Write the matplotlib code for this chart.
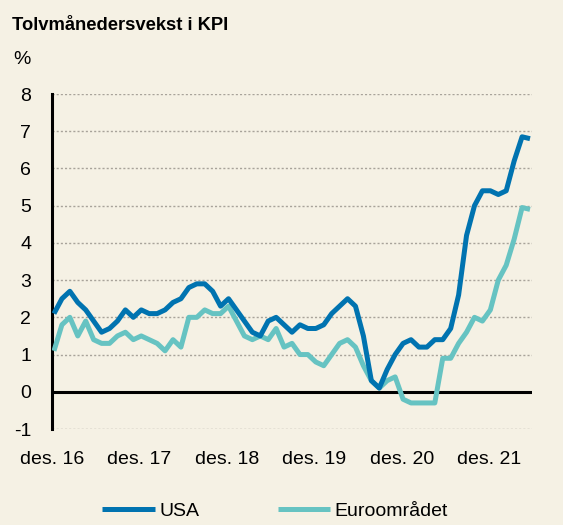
import numpy as np
import matplotlib.pyplot as plt

# Tolvmånedersvekst i KPI, des. 2016 - des. 2021 (månedlig)
usa = [2.1,
       2.5, 2.7, 2.4, 2.2, 1.9, 1.6, 1.7, 1.9, 2.2, 2.0, 2.2, 2.1,
       2.1, 2.2, 2.4, 2.5, 2.8, 2.9, 2.9, 2.7, 2.3, 2.5, 2.2, 1.9,
       1.6, 1.5, 1.9, 2.0, 1.8, 1.6, 1.8, 1.7, 1.7, 1.8, 2.1, 2.3,
       2.5, 2.3, 1.5, 0.3, 0.1, 0.6, 1.0, 1.3, 1.4, 1.2, 1.2, 1.4,
       1.4, 1.7, 2.6, 4.2, 5.0, 5.4, 5.4, 5.3, 5.4, 6.2, 6.85, 6.8]
euro = [1.1,
        1.8, 2.0, 1.5, 1.9, 1.4, 1.3, 1.3, 1.5, 1.6, 1.4, 1.5, 1.4,
        1.3, 1.1, 1.4, 1.2, 2.0, 2.0, 2.2, 2.1, 2.1, 2.3, 1.9, 1.5,
        1.4, 1.5, 1.4, 1.7, 1.2, 1.3, 1.0, 1.0, 0.8, 0.7, 1.0, 1.3,
        1.4, 1.2, 0.7, 0.3, 0.1, 0.3, 0.4, -0.2, -0.3, -0.3, -0.3, -0.3,
        0.9, 0.9, 1.3, 1.6, 2.0, 1.9, 2.2, 3.0, 3.4, 4.1, 4.95, 4.9]
x_labels = ["des. 16", "des. 17", "des. 18", "des. 19", "des. 20", "des. 21"]
y_ticks = [-1, 0, 1, 2, 3, 4, 5, 6, 7, 8]

bg = "#f5f1e4"
col_usa = "#0073b0"
col_euro = "#66c3c2"

plt.rcParams["font.family"] = ["Liberation Sans", "DejaVu Sans"]
plt.rcParams["axes.unicode_minus"] = False

fig = plt.figure(figsize=(5.63, 5.25), dpi=100, facecolor=bg)
ax = fig.add_axes([52 / 563, 1 - 429 / 525, 480 / 563, 335 / 525], facecolor=bg)

t = np.arange(len(usa))

for y in y_ticks:
    if y == 0:
        continue
    ax.axhline(y, color="#a8a39a", lw=1, linestyle=(0, (1.5, 1.5)), zorder=1)
ax.axhline(0, color="black", lw=2.2, zorder=2)

ax.plot(t, usa, color=col_usa, lw=3.6, label="USA", solid_joinstyle="round",
        solid_capstyle="butt", zorder=4)
ax.plot(t, euro, color=col_euro, lw=3.6, label="Euroområdet", solid_joinstyle="round",
        solid_capstyle="butt", zorder=3)

ax.set_xlim(-0.13, 60.25)
ax.set_ylim(-1, 8)
ax.set_yticks(y_ticks)
ax.set_xticks([-0.25 + 11.03 * k for k in range(len(x_labels))])
ax.set_xticklabels(x_labels)

for s in ["top", "right", "bottom"]:
    ax.spines[s].set_visible(False)
ax.spines["left"].set_linewidth(2.2)
ax.spines["left"].set_color("black")
ax.tick_params(axis="y", length=0, pad=15, labelsize=14)
ax.tick_params(axis="x", length=0, pad=16, labelsize=14)

fig.text(12 / 563, 1 - 25 / 525, "Tolvmånedersvekst i KPI", fontsize=13.2,
         fontweight="bold", va="center", ha="left")
fig.text(13 / 563, 1 - 60 / 525, "%", fontsize=14, va="center", ha="left")

fig.legend(loc="center", bbox_to_anchor=(0.489, 1 - 511 / 525), ncol=2,
           frameon=False, fontsize=14, handlelength=2.7, handletextpad=0.25,
           columnspacing=4.0, borderpad=0.1)

fig.savefig("out.png", dpi=100, facecolor=bg)
